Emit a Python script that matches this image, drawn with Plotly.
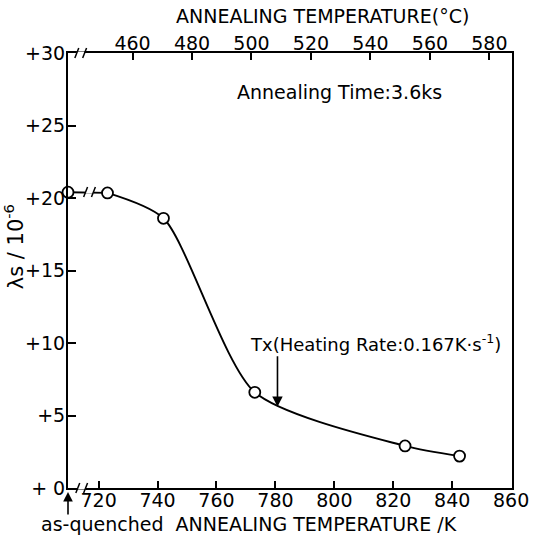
import plotly.graph_objects as go

# Annealing temperature (K) and magnetostriction lambda_s (x 10^-6)
anneal_temp_K = [723, 742, 773, 824, 842.5]
lambda_s = [20.35, 18.6, 6.6, 2.9, 2.2]
as_quenched_lambda = 20.4

# Transition temperature Tx and the curve value there
tx_temp_K = 780.7
tx_lambda = 5.6

x_ticks_K = [720, 740, 760, 780, 800, 820, 840, 860]
x_ticks_C = [460, 480, 500, 520, 540, 560, 580]
y_ticks = [0, 5, 10, 15, 20, 25, 30]
y_tick_text = ["+ 0", "+5", "+10", "+15", "+20", "+25", "+30"]

X_MIN, X_MAX = 709.6, 860.3
C_MIN, C_MAX = 438.3, 587.6

FONT = "DejaVu Sans"
W, H = 541, 541
L, R, T, B = 68, 19, 53, 53
PW, PH = W - L - R, H - T - B


def px(p):
    return (p - L) / PW


def py(p):
    return (H - B - p) / PH


fig = go.Figure()

# as-quenched point joined to the first annealed point (with a break)
fig.add_trace(go.Scatter(
    x=[X_MIN, anneal_temp_K[0]], y=[as_quenched_lambda, lambda_s[0]],
    mode="lines", line=dict(color="black", width=1.9),
    hoverinfo="skip", showlegend=False,
))

# smooth curve through the annealed points
fig.add_trace(go.Scatter(
    x=anneal_temp_K, y=lambda_s, mode="lines",
    line=dict(color="black", width=1.9, shape="spline", smoothing=0.7),
    hoverinfo="skip", showlegend=False,
))

# open circle markers
fig.add_trace(go.Scatter(
    x=[X_MIN] + anneal_temp_K, y=[as_quenched_lambda] + lambda_s,
    mode="markers",
    marker=dict(symbol="circle", size=11, color="white",
                line=dict(color="black", width=1.8)),
    cliponaxis=False, hoverinfo="skip", showlegend=False,
))

# invisible trace that carries the Celsius axis
fig.add_trace(go.Scatter(
    x=[C_MIN], y=[None], xaxis="x2", mode="markers",
    marker=dict(opacity=0), hoverinfo="skip", showlegend=False,
))

tick_font = dict(family=FONT, size=19, color="black")

fig.update_layout(
    width=W, height=H,
    margin=dict(l=L, r=R, t=T, b=B, pad=0),
    paper_bgcolor="white", plot_bgcolor="white",
    xaxis=dict(
        range=[X_MIN, X_MAX], tickvals=x_ticks_K,
        ticks="inside", ticklen=7, tickwidth=1.5, tickcolor="black",
        showline=True, linecolor="black", linewidth=2,
        showgrid=False, zeroline=False, tickfont=tick_font,
        ticklabelstandoff=-6,
    ),
    xaxis2=dict(
        range=[C_MIN, C_MAX], tickvals=x_ticks_C, overlaying="x", side="top",
        ticks="inside", ticklen=7, tickwidth=1.5, tickcolor="black",
        showline=True, linecolor="black", linewidth=2,
        showgrid=False, zeroline=False, tickfont=tick_font,
        ticklabelstandoff=-7,
    ),
    yaxis=dict(
        range=[0, 30], tickvals=y_ticks, ticktext=y_tick_text,
        ticks="inside", ticklen=8, tickwidth=1.5, tickcolor="black",
        showline=True, linecolor="black", linewidth=2, mirror=True,
        showgrid=False, zeroline=False, tickfont=tick_font,
        ticklabelstandoff=-3,
    ),
    font=dict(family=FONT, color="black"),
)

ann = []
ann.append(dict(
    text="ANNEALING TEMPERATURE(°C)", xref="paper", yref="paper",
    x=px(328), y=py(16), xanchor="center", yanchor="middle",
    showarrow=False, font=dict(family=FONT, size=19),
))
ann.append(dict(
    text="as-quenched  ANNEALING TEMPERATURE /K", xref="paper", yref="paper",
    x=px(38), y=py(524), xanchor="left", yanchor="middle",
    showarrow=False, font=dict(family=FONT, size=19),
))
ann.append(dict(
    text="λs / 10<sup>-6</sup>", xref="paper", yref="paper",
    x=px(13), y=py(247), xanchor="center", yanchor="middle", textangle=-90,
    showarrow=False, font=dict(family=FONT, size=21),
))
ann.append(dict(
    text="Annealing Time:3.6ks", xref="paper", yref="paper",
    x=px(346), y=py(92), xanchor="center", yanchor="middle",
    showarrow=False, font=dict(family=FONT, size=19),
))
ann.append(dict(
    text="Tx(Heating Rate:0.167K·s<sup>-1</sup>)", xref="paper", yref="paper",
    x=px(382), y=py(343), xanchor="center", yanchor="middle",
    showarrow=False, font=dict(family=FONT, size=18),
))
# arrow down to Tx on the curve
ann.append(dict(
    text="", x=tx_temp_K, y=tx_lambda, xref="x", yref="y",
    showarrow=True, ax=0, ay=-52, arrowhead=2, arrowsize=1.3,
    arrowwidth=1.6, arrowcolor="black", standoff=0, startstandoff=0,
))
# arrow marking the as-quenched position
ann.append(dict(
    text="", x=X_MIN, y=py(492), xref="x", yref="paper",
    showarrow=True, ax=0, ay=24, arrowhead=2, arrowsize=1.2,
    arrowwidth=1.6, arrowcolor="black", standoff=0, startstandoff=0,
))
fig.update_layout(annotations=ann)

# axis / line break marks
shapes = []


def break_mark(cx, cy, gap=8, h=10):
    # white gap plus two slanted strokes, in pixel positions
    shapes.append(dict(
        type="rect", xref="paper", yref="paper", layer="above",
        x0=px(cx - gap / 2), x1=px(cx + gap / 2),
        y0=py(cy + 1.5), y1=py(cy - 1.5),
        fillcolor="white", line=dict(width=0),
    ))
    for dx in (-gap / 2, gap / 2):
        shapes.append(dict(
            type="line", xref="paper", yref="paper", layer="above",
            x0=px(cx + dx - 2), y0=py(cy + h / 2),
            x1=px(cx + dx + 2), y1=py(cy - h / 2),
            line=dict(color="black", width=1.5),
        ))


break_mark(82, 488)
break_mark(81, 53)
break_mark(90, 192)
fig.update_layout(shapes=shapes)

fig.write_html("out.html")
